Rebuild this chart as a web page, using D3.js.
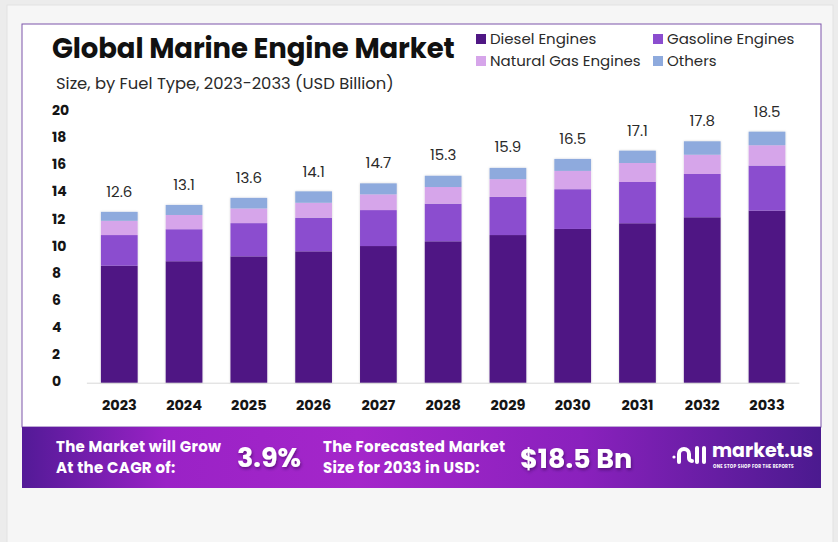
<!DOCTYPE html>
<html>
<head>
<meta charset="utf-8">
<script src="https://cdn.jsdelivr.net/npm/d3@7"></script>
<style>
  html, body { margin: 0; padding: 0; background: #ececec; }
  svg { display: block; }
</style>
</head>
<body>
<svg id="chart" width="838" height="542"></svg>
<script>
// ── Data ──
const years = ["2023", "2024", "2025", "2026", "2027", "2028", "2029", "2030", "2031", "2032", "2033"];
const totals = [12.6, 13.1, 13.6, 14.1, 14.7, 15.3, 15.9, 16.5, 17.1, 17.8, 18.5];
const diesel = [8.62, 8.95, 9.31, 9.68, 10.07, 10.42, 10.88, 11.33, 11.75, 12.19, 12.68];
const gasoline = [2.26, 2.36, 2.45, 2.48, 2.65, 2.77, 2.82, 2.93, 3.04, 3.19, 3.32];
const naturalGas = [1.05, 1.05, 1.08, 1.10, 1.16, 1.23, 1.30, 1.35, 1.40, 1.42, 1.50];
const others = [0.66, 0.74, 0.78, 0.84, 0.81, 0.83, 0.83, 0.88, 0.91, 0.99, 1.00];
const seriesNames = ["Diesel Engines", "Gasoline Engines", "Natural Gas Engines", "Others"];
const yTicks = [0, 2, 4, 6, 8, 10, 12, 14, 16, 18, 20];

const colors = {
  "Diesel Engines": "#4f1784",
  "Gasoline Engines": "#8b4dcf",
  "Natural Gas Engines": "#d6a5ea",
  "Others": "#8eaadd"
};

const FONT = "Poppins, Inter, sans-serif";

const svg = d3.select("#chart");

// ── Page / card background ──
svg.append("rect").attr("x", 7).attr("y", 5).attr("width", 826).attr("height", 540)
  .attr("fill", "#f6f6f6").attr("stroke", "#e2e2e2");
svg.append("rect").attr("x", 22).attr("y", 24).attr("width", 799).attr("height", 403)
  .attr("fill", "#fff").attr("stroke", "#7c55aa").attr("stroke-width", 1);

// ── Table for stacking ──
const table = years.map((y, i) => ({
  year: y,
  "Diesel Engines": diesel[i],
  "Gasoline Engines": gasoline[i],
  "Natural Gas Engines": naturalGas[i],
  "Others": others[i],
  total: totals[i]
}));
const stacked = d3.stack().keys(seriesNames)(table);

// ── Scales ──
const x = d3.scaleBand()
  .domain(years)
  .range([86.9, 799.4])
  .paddingInner(0.433)
  .paddingOuter(0.2165);

const y = d3.scaleLinear().domain([0, 20]).range([382.7, 111.3]);

// ── Baseline ──
svg.append("line")
  .attr("x1", 86.9).attr("x2", 799.4)
  .attr("y1", y(0) + 0.5).attr("y2", y(0) + 0.5)
  .attr("stroke", "#d8d8d8").attr("stroke-width", 1);

// ── Y axis ──
const yAxis = svg.append("g")
  .attr("transform", "translate(52,0)")
  .call(d3.axisLeft(y).tickValues(yTicks).tickSize(0).tickPadding(0));
yAxis.select(".domain").remove();
yAxis.selectAll("text")
  .attr("text-anchor", "start")
  .attr("dy", "0.3em")
  .attr("y", -1)
  .style("font-family", FONT)
  .style("font-weight", 700)
  .style("font-size", "14px")
  .style("fill", "#151515");

// ── X axis ──
const xAxis = svg.append("g")
  .attr("transform", `translate(0,${y(0)})`)
  .call(d3.axisBottom(x).tickSize(0).tickPadding(0));
xAxis.select(".domain").remove();
xAxis.selectAll("text")
  .attr("y", 22)
  .attr("dy", "0.35em")
  .style("font-family", FONT)
  .style("font-weight", 700)
  .style("font-size", "14.5px")
  .style("fill", "#151515");

// ── Bars ──
const defs = svg.append("defs");
const shadow = defs.append("filter").attr("id", "barShadow")
  .attr("x", "-20%").attr("y", "-10%").attr("width", "140%").attr("height", "120%");
shadow.append("feDropShadow").attr("dx", 0).attr("dy", 0).attr("stdDeviation", 1.2)
  .attr("flood-color", "#000").attr("flood-opacity", 0.18);

const barGroup = svg.append("g").attr("filter", "url(#barShadow)");
barGroup.selectAll("g")
  .data(stacked)
  .join("g")
  .attr("fill", d => colors[d.key])
  .selectAll("rect")
  .data(d => d)
  .join("rect")
  .attr("x", d => x(d.data.year))
  .attr("width", x.bandwidth())
  .attr("y", d => y(d[1]))
  .attr("height", d => y(d[0]) - y(d[1]));

// ── Value labels ──
svg.append("g").selectAll("text")
  .data(table)
  .join("text")
  .attr("x", d => x(d.year) + x.bandwidth() / 2)
  .attr("y", d => y(d.total) - 20)
  .attr("dy", "0.35em")
  .attr("text-anchor", "middle")
  .style("font-family", FONT)
  .style("font-size", "15px")
  .style("fill", "#2a2a2a")
  .text(d => d.total.toFixed(1));

// ── Title ──
svg.append("text")
  .attr("x", 52).attr("y", 58)
  .style("font-family", FONT)
  .style("font-weight", 700)
  .style("font-size", "27.5px")
  .style("letter-spacing", "-0.1px")
  .style("fill", "#111")
  .text("Global Marine Engine Market");

svg.append("text")
  .attr("x", 56).attr("y", 89)
  .style("font-family", FONT)
  .style("font-size", "16.4px")
  .style("fill", "#2a2a2a")
  .text("Size, by Fuel Type, 2023-2033 (USD Billion)");

// ── Legend ──
const legendPos = [[476, 39], [653, 39], [476, 61], [653, 61]];
const legend = svg.append("g").selectAll("g")
  .data(seriesNames)
  .join("g")
  .attr("transform", (d, i) => `translate(${legendPos[i][0]},${legendPos[i][1]})`);
legend.append("rect")
  .attr("x", 0).attr("y", -5).attr("width", 10).attr("height", 10)
  .attr("fill", d => colors[d]);
legend.append("text")
  .attr("x", 14).attr("dy", "0.35em")
  .style("font-family", FONT)
  .style("font-size", "15px")
  .style("fill", "#2a2a2a")
  .text(d => d);

// ── Banner ──
const grad = defs.append("linearGradient").attr("id", "bannerGrad")
  .attr("x1", "0%").attr("x2", "100%").attr("y1", "0%").attr("y2", "0%");
[[0, "#531a97"], [0.18, "#9a22c6"], [0.42, "#a426ca"], [0.7, "#8a21bd"], [1, "#4b1a8f"]]
  .forEach(([o, c]) => grad.append("stop").attr("offset", o).attr("stop-color", c));

svg.append("rect").attr("x", 22).attr("y", 427).attr("width", 799).attr("height", 61)
  .attr("fill", "url(#bannerGrad)");

const txtShadow = defs.append("filter").attr("id", "txtShadow")
  .attr("x", "-10%").attr("y", "-20%").attr("width", "130%").attr("height", "150%");
txtShadow.append("feDropShadow").attr("dx", 1).attr("dy", 2).attr("stdDeviation", 1.5)
  .attr("flood-color", "#2a0040").attr("flood-opacity", 0.5);

const bannerText = svg.append("g")
  .style("font-family", FONT)
  .style("font-weight", 700)
  .style("fill", "#fff");

// two-line captions
function twoLines(xPos, lines) {
  bannerText.append("text").attr("x", xPos).attr("y", 451.5)
    .style("font-size", "15px").style("letter-spacing", "0.3px").text(lines[0]);
  bannerText.append("text").attr("x", xPos).attr("y", 472.5)
    .style("font-size", "15px").style("letter-spacing", "0.3px").text(lines[1]);
}
twoLines(56, ["The Market will Grow", "At the CAGR of:"]);
twoLines(323, ["The Forecasted Market", "Size for 2033 in USD:"]);

bannerText.append("text").attr("x", 237).attr("y", 467).style("font-size", "27px")
  .attr("filter", "url(#txtShadow)").text("3.9%");
bannerText.append("text").attr("x", 520).attr("y", 468).style("font-size", "27px")
  .attr("filter", "url(#txtShadow)").text("$18.5 Bn");

// ── Logo ──
const logo = svg.append("g").attr("fill", "none").attr("stroke", "#fff")
  .attr("stroke-width", 4).attr("stroke-linecap", "round");
logo.append("circle").attr("cx", 674).attr("cy", 457).attr("r", 1.6).attr("fill", "#fff").attr("stroke", "none");
logo.append("path").attr("d", "M679,462 L679,454 A5,5 0 0 1 689,454 L689,458 A3,3 0 0 0 692,461");
logo.append("path").attr("d", "M697,448 L697,462");
logo.append("path").attr("d", "M704,448 L704,462");

bannerText.append("text").attr("x", 712).attr("y", 456.5).style("font-size", "19px").text("market.us");
bannerText.append("text").attr("x", 713).attr("y", 468).style("font-size", "4.3px")
  .style("letter-spacing", "0.3px").text("ONE STOP SHOP FOR THE REPORTS");
</script>
</body>
</html>
